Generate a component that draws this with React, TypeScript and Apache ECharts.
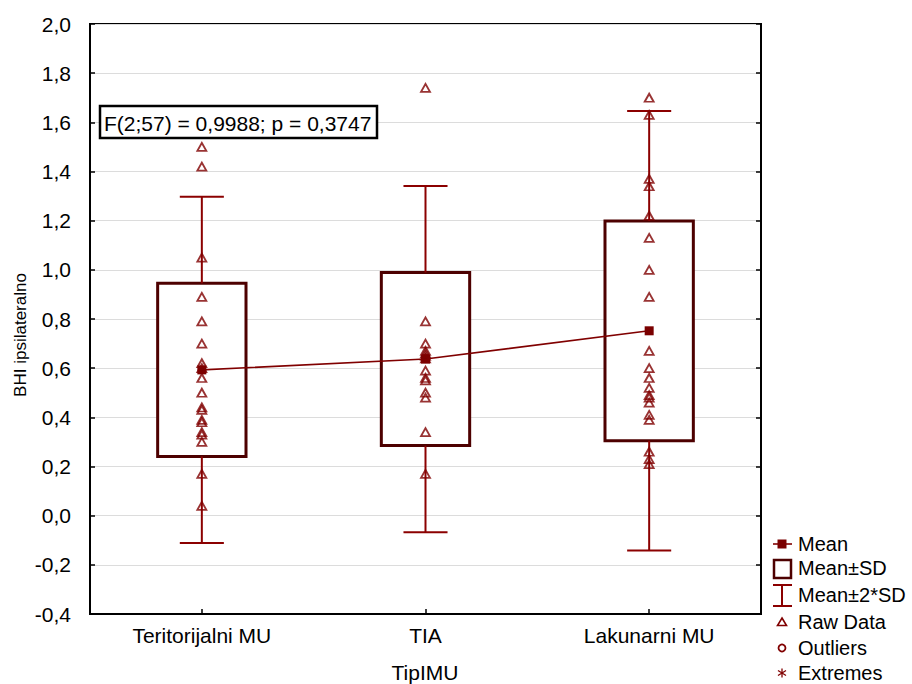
import React, { useEffect, useRef } from "react";
import * as echarts from "echarts";

const categories = ["Teritorijalni MU", "TIA", "Lakunarni MU"];
const means = [0.593, 0.637, 0.752];
const sds = [0.352, 0.352, 0.447];

const rawTeritorijalni = [1.5, 1.42, 1.05, 0.89, 0.79, 0.7, 0.62, 0.6, 0.56, 0.5, 0.44, 0.43, 0.39, 0.38, 0.34, 0.33, 0.3, 0.17, 0.04];
const rawTIA = [1.74, 0.79, 0.7, 0.67, 0.66, 0.65, 0.64, 0.59, 0.56, 0.55, 0.5, 0.48, 0.34, 0.17];
const rawLakunarni = [1.7, 1.63, 1.37, 1.34, 1.22, 1.13, 1.0, 0.89, 0.67, 0.6, 0.56, 0.52, 0.49, 0.48, 0.46, 0.41, 0.39, 0.26, 0.23, 0.21];
const rawData = [rawTeritorijalni, rawTIA, rawLakunarni];

const yMin = -0.4;
const yMax = 2.0;
const yInterval = 0.2;

const annotation = "F(2;57) = 0,9988; p = 0,3747";
const xName = "TipIMU";
const yName = "BHI ipsilateralno";
const legendLabels = ["Mean", "Mean±SD", "Mean±2*SD", "Raw Data", "Outliers", "Extremes"];

const FONT = "'Liberation Sans', Arial, sans-serif";
const DARK = "#4d0000";
const RED = "#800000";

export default function App() {
  const ref = useRef<HTMLDivElement>(null);
  useEffect(() => {
    if (!ref.current) return;
    const chart = echarts.init(ref.current, null, { renderer: "svg" });
    const fmt = (v: number) => v.toFixed(1).replace(".", ",");
    const scatterData: number[][] = [];
    rawData.forEach((arr, i) => arr.forEach((v) => scatterData.push([i, v])));

    const lx = 782;
    const tx = 798;
    const legendY = [544, 568, 595, 622, 648, 673];

    const option: any = {
      animation: false,
      backgroundColor: "#fff",
      grid: { left: 90, right: 151, top: 24, bottom: 70, show: true, borderColor: "#000", borderWidth: 2 },
      xAxis: {
        type: "category",
        data: categories,
        boundaryGap: true,
        axisLine: { show: true, onZero: false, lineStyle: { color: "#000", width: 2 } },
        axisTick: { show: true, alignWithLabel: true, inside: true, length: 5, lineStyle: { color: "#000", width: 1.5 } },
        axisLabel: { color: "#000", fontSize: 21, fontFamily: FONT, margin: 11 },
        splitLine: { show: false },
      },
      yAxis: [
        {
          type: "value",
          min: yMin,
          max: yMax,
          interval: yInterval,
          axisLine: { show: true, lineStyle: { color: "#000", width: 2 } },
          axisTick: { show: true, inside: true, length: 5, lineStyle: { color: "#000", width: 1.5 } },
          axisLabel: { color: "#000", fontSize: 21, fontFamily: FONT, margin: 19, formatter: fmt },
          splitLine: { show: true, lineStyle: { color: "#dcdcdc", width: 1.2 } },
        },
        {
          type: "value",
          position: "right",
          min: yMin,
          max: yMax,
          interval: yInterval,
          axisLine: { show: true, lineStyle: { color: "#000", width: 2 } },
          axisTick: { show: true, inside: true, length: 5, lineStyle: { color: "#000", width: 1.5 } },
          axisLabel: { show: false },
          splitLine: { show: false },
        },
      ],
      series: [
        {
          type: "custom",
          name: "Mean±SD",
          z: 1,
          data: means.map((m, i) => [i, m, sds[i]]),
          encode: { x: 0, y: 1 },
          renderItem: (params: any, api: any) => {
            const x = api.value(0);
            const m = api.value(1);
            const s = api.value(2);
            const top = api.coord([x, m + s]);
            const bot = api.coord([x, m - s]);
            const w = api.size([1, 0])[0] * 0.395;
            return {
              type: "rect",
              shape: { x: top[0] - w / 2, y: top[1], width: w, height: bot[1] - top[1] },
              style: { fill: "#fff", stroke: DARK, lineWidth: 3 },
            };
          },
        },
        {
          type: "custom",
          name: "Mean±2*SD",
          z: 2,
          data: means.map((m, i) => [i, m, sds[i]]),
          encode: { x: 0, y: 1 },
          renderItem: (params: any, api: any) => {
            const x = api.value(0);
            const m = api.value(1);
            const s = api.value(2);
            const p1 = api.coord([x, m + s]);
            const p2 = api.coord([x, m + 2 * s]);
            const p3 = api.coord([x, m - s]);
            const p4 = api.coord([x, m - 2 * s]);
            const cw = api.size([1, 0])[0] * 0.197;
            const st = { stroke: "#8b0000", lineWidth: 2 };
            return {
              type: "group",
              children: [
                { type: "line", shape: { x1: p1[0], y1: p1[1], x2: p2[0], y2: p2[1] }, style: st },
                { type: "line", shape: { x1: p2[0] - cw / 2, y1: p2[1], x2: p2[0] + cw / 2, y2: p2[1] }, style: st },
                { type: "line", shape: { x1: p3[0], y1: p3[1], x2: p4[0], y2: p4[1] }, style: st },
                { type: "line", shape: { x1: p4[0] - cw / 2, y1: p4[1], x2: p4[0] + cw / 2, y2: p4[1] }, style: st },
              ],
            };
          },
        },
        {
          type: "line",
          name: "Mean",
          z: 3,
          data: means,
          symbol: "rect",
          symbolSize: 9,
          itemStyle: { color: "#7a0000" },
          lineStyle: { color: "#800000", width: 1.6 },
        },
        {
          type: "scatter",
          name: "Raw Data",
          z: 4,
          data: scatterData,
          symbol: "triangle",
          symbolSize: [9, 8],
          itemStyle: { color: "rgba(0,0,0,0)", borderColor: RED, borderWidth: 1.8 },
        },
      ],
      graphic: [
        {
          type: "rect",
          shape: { x: 100, y: 106, width: 277, height: 32 },
          style: { fill: "#fff", stroke: "#000", lineWidth: 2.5 },
          z: 10,
        },
        {
          type: "text",
          x: 104,
          y: 123,
          z: 11,
          style: { text: annotation, fill: "#000", fontSize: 21, fontFamily: FONT, verticalAlign: "middle", align: "left" },
        },
        {
          type: "text",
          x: 20,
          y: 335,
          rotation: Math.PI / 2,
          style: { text: yName, fill: "#000", fontSize: 17, fontFamily: FONT, align: "center", verticalAlign: "middle" },
        },
        {
          type: "text",
          x: 425,
          y: 672,
          style: { text: xName, fill: "#000", fontSize: 21, fontFamily: FONT, align: "center", verticalAlign: "middle" },
        },
        // legend symbols
        { type: "line", shape: { x1: 773, y1: legendY[0], x2: 792, y2: legendY[0] }, style: { stroke: "#800000", lineWidth: 1.6 } },
        { type: "rect", shape: { x: lx - 4.5, y: legendY[0] - 4.5, width: 9, height: 9 }, style: { fill: "#7a0000" } },
        { type: "rect", shape: { x: 774, y: 560, width: 17, height: 18 }, style: { fill: "#fff", stroke: DARK, lineWidth: 2.5 } },
        { type: "line", shape: { x1: 773, y1: 585, x2: 792, y2: 585 }, style: { stroke: "#8b0000", lineWidth: 2 } },
        { type: "line", shape: { x1: lx, y1: 585, x2: lx, y2: 606 }, style: { stroke: "#8b0000", lineWidth: 2 } },
        { type: "line", shape: { x1: 773, y1: 606, x2: 792, y2: 606 }, style: { stroke: "#8b0000", lineWidth: 2 } },
        { type: "polygon", shape: { points: [[lx, legendY[3] - 4], [lx + 4.5, legendY[3] + 3.5], [lx - 4.5, legendY[3] + 3.5]] }, style: { fill: "none", stroke: RED, lineWidth: 1.6 } },
        { type: "circle", shape: { cx: lx, cy: legendY[4], r: 3.5 }, style: { fill: "none", stroke: RED, lineWidth: 1.8 } },
        { type: "line", shape: { x1: lx, y1: legendY[5] - 4.5, x2: lx, y2: legendY[5] + 4.5 }, style: { stroke: RED, lineWidth: 1.3 } },
        { type: "line", shape: { x1: lx - 4, y1: legendY[5] - 2.5, x2: lx + 4, y2: legendY[5] + 2.5 }, style: { stroke: RED, lineWidth: 1.3 } },
        { type: "line", shape: { x1: lx - 4, y1: legendY[5] + 2.5, x2: lx + 4, y2: legendY[5] - 2.5 }, style: { stroke: RED, lineWidth: 1.3 } },
        ...legendLabels.map((t, i) => ({
          type: "text",
          x: tx,
          y: legendY[i],
          style: { text: t, fill: "#000", fontSize: 20, fontFamily: FONT, align: "left", verticalAlign: "middle" },
        })),
      ],
    };
    chart.setOption(option);
    return () => chart.dispose();
  }, []);
  return <div ref={ref} style={{ position: "fixed", left: 0, top: 0, width: 912, height: 684, background: "#fff" }} />;
}
